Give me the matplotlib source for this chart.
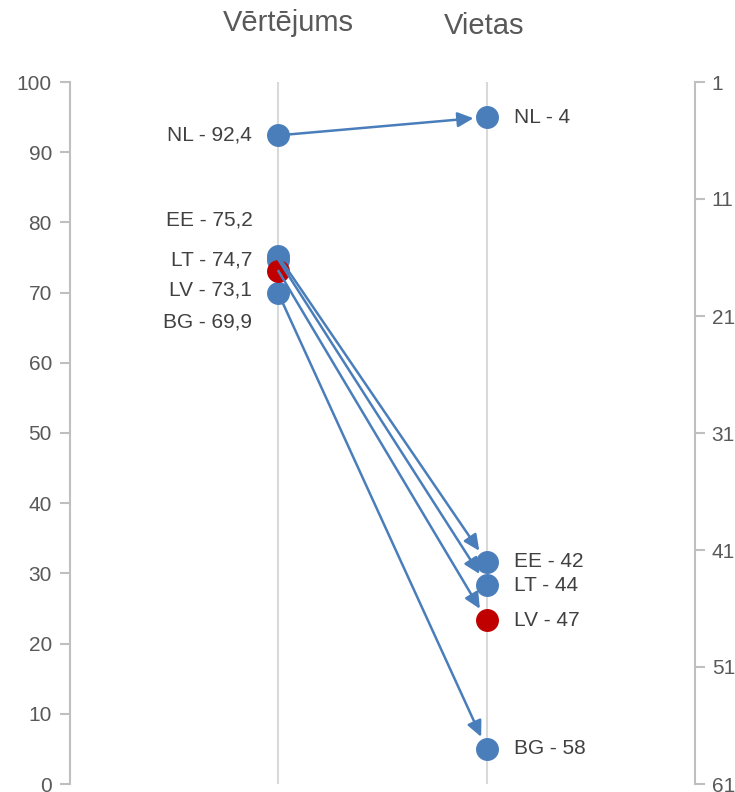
import matplotlib
matplotlib.use("Agg")
import matplotlib.pyplot as plt

plt.rcParams["font.family"] = ["Liberation Sans", "DejaVu Sans"]

# data
countries = ["NL", "EE", "LT", "BG", "LV"]
scores = [92.4, 75.2, 74.7, 69.9, 73.1]
ranks = [4, 42, 44, 58, 47]
score_labels = ["92,4", "75,2", "74,7", "69,9", "73,1"]
highlight = "LV"

left_ticks = list(range(0, 101, 10))
right_ticks = list(range(1, 62, 10))

BLUE = "#4A7EBB"
RED = "#C00000"
GREY = "#BFBFBF"
TXT = "#595959"
LBL = "#404040"

# pixel nudges for the crowded left labels
left_dy = {"NL": 0, "EE": 36, "LT": 0, "LV": -19, "BG": -29}

fig = plt.figure(figsize=(7.35, 7.92), dpi=100)
ax = fig.add_axes([70 / 735, 8 / 792, 625 / 735, 702 / 792])
ax2 = ax.twinx()

ax.set_xlim(0, 1)
ax.set_ylim(0, 100)
ax2.set_ylim(61, 1)

ax.set_yticks(left_ticks)
ax2.set_yticks(right_ticks)
ax.set_xticks([])

for a in (ax, ax2):
    for s in ["top", "bottom", "left", "right"]:
        a.spines[s].set_visible(False)
    a.tick_params(axis="y", colors=GREY, labelcolor=TXT, labelsize=15,
                  length=7, width=1.5, pad=6)
ax.spines["left"].set_visible(True)
ax.spines["left"].set_color(GREY)
ax.spines["left"].set_linewidth(1.5)
ax2.spines["right"].set_visible(True)
ax2.spines["right"].set_color(GREY)
ax2.spines["right"].set_linewidth(1.5)
ax2.tick_params(axis="y", pad=5)

x1, x2 = 1 / 3, 2 / 3
ax.axvline(x1, color="#D9D9D9", lw=1.5, zorder=0)
ax.axvline(x2, color="#D9D9D9", lw=1.5, zorder=0)

for c, s, r in zip(countries, scores, ranks):
    ax2.annotate("", xy=(x2, r), xycoords=ax2.transData,
                 xytext=(x1, s), textcoords=ax.transData,
                 arrowprops=dict(arrowstyle="-|>,head_length=0.95,head_width=0.45",
                                 color=BLUE, lw=1.8, shrinkA=0, shrinkB=9.5),
                 zorder=2)
for c, s, r, sl in zip(countries, scores, ranks, score_labels):
    col = RED if c == highlight else BLUE
    ax.plot(x1, s, "o", ms=15.5, color=col, zorder=5, clip_on=False)
    ax2.plot(x2, r, "o", ms=15.5, color=col, zorder=5, clip_on=False)
    ax.annotate(f"{c} - {sl}", xy=(x1, s), xytext=(-26, left_dy[c]),
                textcoords="offset pixels", ha="right", va="center",
                fontsize=15, color=LBL)
    ax2.annotate(f"{c} - {r}", xy=(x2, r), xytext=(27, 0),
                 textcoords="offset pixels", ha="left", va="center",
                 fontsize=15, color=LBL)

fig.text(288 / 735, 1 - 23 / 792, "Vērtējums", ha="center", va="center",
         fontsize=21, color=TXT)
fig.text(484 / 735, 1 - 26 / 792, "Vietas", ha="center", va="center",
         fontsize=21, color=TXT)

fig.savefig("out.png", dpi=100)
